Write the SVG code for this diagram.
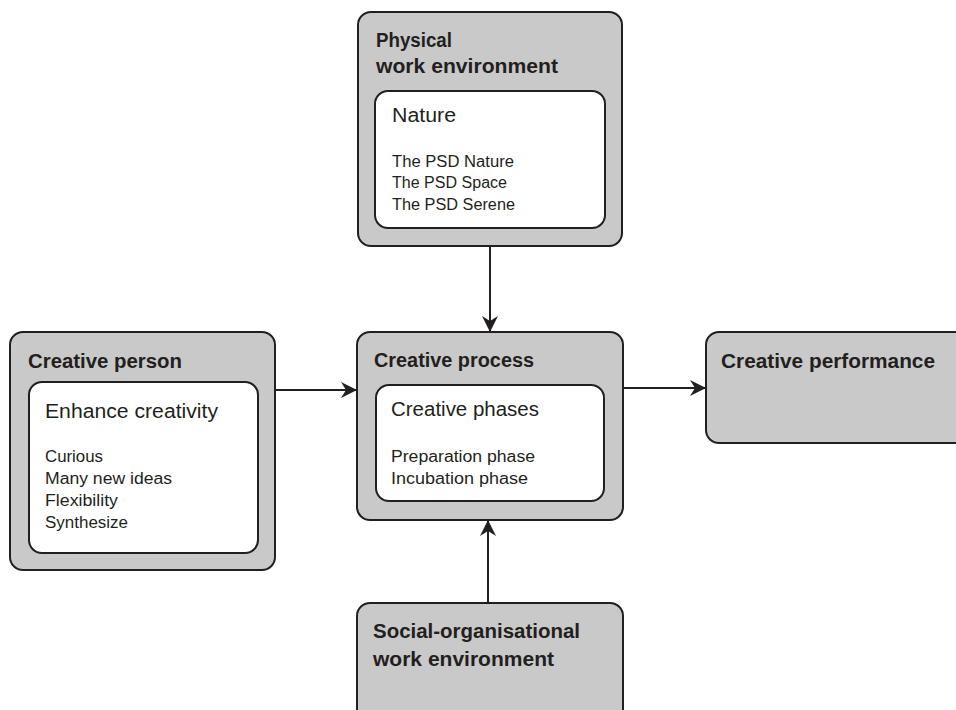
<svg xmlns="http://www.w3.org/2000/svg" width="956" height="710" viewBox="0 0 956 710">
<defs>
<style>
.outer{fill:#c9c9c9;stroke:#231f20;stroke-width:2}
.inner{fill:#ffffff;stroke:#231f20;stroke-width:2}
.t{font-family:"Liberation Sans",Arial,sans-serif;fill:#231f20}
.title{font-size:20px;font-weight:bold}
.head{font-size:20px}
.item{font-size:16px}
.conn{stroke:#231f20;stroke-width:2;fill:none}
</style>
<marker id="arr" viewBox="0 0 16 16" markerWidth="16" markerHeight="16" refX="15" refY="8" orient="auto" markerUnits="userSpaceOnUse">
<path d="M0,0 L16,8 L0,16 L5,8 Z" fill="#231f20"/>
</marker>
</defs>
<rect width="956" height="710" fill="#ffffff"/>

<g id="physical">
<rect class="outer" x="358" y="12" width="264" height="234" rx="13"/>
<rect class="inner" x="375" y="91" width="230" height="137" rx="13"/>
<text class="t title" x="376" y="47" textLength="76" lengthAdjust="spacingAndGlyphs">Physical</text>
<text class="t title" x="376" y="73" textLength="182" lengthAdjust="spacingAndGlyphs">work environment</text>
<text class="t head" x="392" y="122" textLength="64" lengthAdjust="spacingAndGlyphs">Nature</text>
<text class="t item" x="392" y="167" textLength="122" lengthAdjust="spacingAndGlyphs">The PSD Nature</text>
<text class="t item" x="392" y="188" textLength="115" lengthAdjust="spacingAndGlyphs">The PSD Space</text>
<text class="t item" x="392" y="210" textLength="123" lengthAdjust="spacingAndGlyphs">The PSD Serene</text>
</g>

<g id="person">
<rect class="outer" x="10" y="332" width="265" height="238" rx="13"/>
<rect class="inner" x="29" y="382" width="229" height="171" rx="13"/>
<text class="t title" x="28" y="368" textLength="154" lengthAdjust="spacingAndGlyphs">Creative person</text>
<text class="t head" x="45" y="418" textLength="173" lengthAdjust="spacingAndGlyphs">Enhance creativity</text>
<text class="t item" x="45" y="462" textLength="58" lengthAdjust="spacingAndGlyphs">Curious</text>
<text class="t item" x="45" y="484" textLength="127" lengthAdjust="spacingAndGlyphs">Many new ideas</text>
<text class="t item" x="45" y="506" textLength="73" lengthAdjust="spacingAndGlyphs">Flexibility</text>
<text class="t item" x="45" y="528" textLength="83" lengthAdjust="spacingAndGlyphs">Synthesize</text>
</g>

<g id="process">
<rect class="outer" x="357" y="332" width="266" height="188" rx="13"/>
<rect class="inner" x="376" y="385" width="228" height="116" rx="13"/>
<text class="t title" x="374" y="367" textLength="160" lengthAdjust="spacingAndGlyphs">Creative process</text>
<text class="t head" x="391" y="416" textLength="148" lengthAdjust="spacingAndGlyphs">Creative phases</text>
<text class="t item" x="391" y="462" textLength="144" lengthAdjust="spacingAndGlyphs">Preparation phase</text>
<text class="t item" x="391" y="484" textLength="137" lengthAdjust="spacingAndGlyphs">Incubation phase</text>
</g>

<g id="performance">
<rect class="outer" x="706" y="332" width="270" height="111" rx="13"/>
<text class="t title" x="721" y="368" textLength="214" lengthAdjust="spacingAndGlyphs">Creative performance</text>
</g>

<g id="social">
<rect class="outer" x="357" y="603" width="266" height="130" rx="13"/>
<text class="t title" x="373" y="638" textLength="207" lengthAdjust="spacingAndGlyphs">Social-organisational</text>
<text class="t title" x="373" y="666" textLength="181" lengthAdjust="spacingAndGlyphs">work environment</text>
</g>

<g id="connectors">
<line class="conn" x1="490" y1="246" x2="490" y2="331" marker-end="url(#arr)"/>
<line class="conn" x1="275" y1="390" x2="356" y2="390" marker-end="url(#arr)"/>
<line class="conn" x1="623" y1="388" x2="705" y2="388" marker-end="url(#arr)"/>
<line class="conn" x1="488" y1="603" x2="488" y2="521" marker-end="url(#arr)"/>
</g>
</svg>
